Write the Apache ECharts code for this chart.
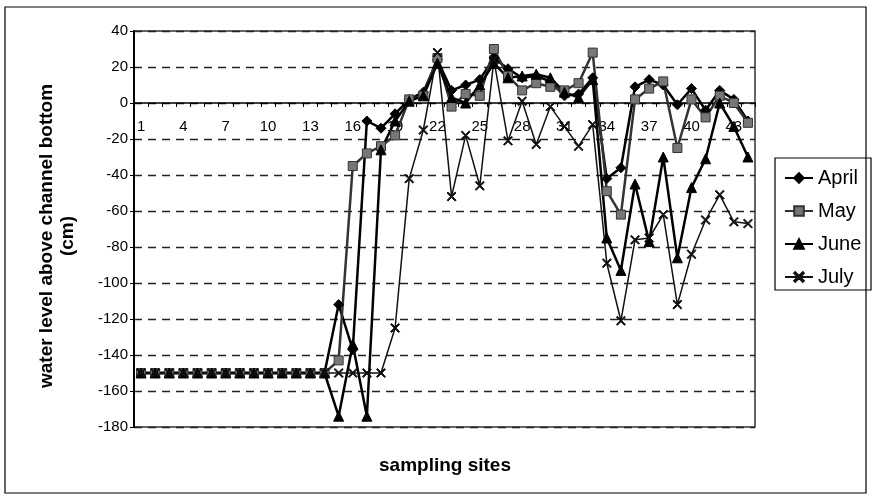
<!DOCTYPE html>
<html>
<head>
<meta charset="utf-8">
<script src="https://cdn.jsdelivr.net/npm/echarts@6/dist/echarts.min.js"></script>
<style>
  html, body { margin: 0; padding: 0; background: #fff; }
  #chart { width: 872px; height: 499px; }
</style>
</head>
<body>
<div id="chart"></div>
<script>
// Sampling sites along the channel
const sites = ['1','2','3','4','5','6','7','8','9','10','11','12','13','14','15','16','17','18','19','20','21','22',
  '23','24','25','26','27','28','29','30','31','32','33','34','35','36','37','38','39','40','41','42','43','44'];

// Water level above channel bottom (cm), per month
const april = [-150,-150,-150,-150,-150,-150,-150,-150,-150,-150,-150,-150,-150,-150,
  -112,-137,-10,-14,-6,2,6,24,7,10,13,25,19,14,15,12,4,5,14,-42,-36,9,13,10,-1,8,-4,7,2,-10];
const may = [-150,-150,-150,-150,-150,-150,-150,-150,-150,-150,-150,-150,-150,-150,
  -143,-35,-28,-24,-18,2,4,25,-2,5,4,30,15,7,11,9,7,11,28,-49,-62,2,8,12,-25,2,-8,4,0,-11];
const june = [-150,-150,-150,-150,-150,-150,-150,-150,-150,-150,-150,-150,-150,-150,
  -174,-134,-174,-26,-10,1,4,22,3,0,10,22,14,15,16,14,6,3,13,-75,-93,-45,-77,-30,-86,-47,-31,0,-13,-30];
const july = [-150,-150,-150,-150,-150,-150,-150,-150,-150,-150,-150,-150,-150,-150,
  -150,-150,-150,-150,-125,-42,-15,28,-52,-18,-46,24,-21,1,-23,-2,-13,-24,-12,-89,-121,-76,-75,-62,-112,-84,-65,-51,-66,-67];

// Value axis range
const yMin = -180, yMax = 40, yStep = 20;

const FONT = '"Liberation Sans", Arial, sans-serif';
const crossSymbol = 'path://M0,1L1,0L5,4L9,0L10,1L6,5L10,9L9,10L5,6L1,10L0,9L4,5Z';

// Plot box
const PLOT = { left: 134, top: 31, width: 621, height: 396 };
// Distance from the bottom of the plot box up to the zero line
const zeroLift = PLOT.height * (0 - yMin) / (yMax - yMin);

function lineSeries(name, data, symbol, size, lineColor, fill, width) {
  return {
    name: name,
    type: 'line',
    data: data,
    symbol: symbol,
    symbolSize: size,
    showAllSymbol: true,
    lineStyle: { color: lineColor, width: width },
    itemStyle: { color: fill, borderColor: lineColor, borderWidth: 1 },
    emphasis: { disabled: true }
  };
}

const chart = echarts.init(document.getElementById('chart'));
chart.setOption({
  animation: false,
  backgroundColor: '#fff',
  grid: {
    left: PLOT.left, top: PLOT.top, width: PLOT.width, height: PLOT.height,
    show: true, borderColor: '#333', borderWidth: 1.5
  },
  xAxis: {
    type: 'category',
    data: sites,
    boundaryGap: true,
    position: 'bottom',
    offset: -zeroLift,
    axisLine: { onZero: false, lineStyle: { color: '#000', width: 1.5 } },
    axisTick: { show: true, interval: 0, length: 4, lineStyle: { color: '#000', width: 1 } },
    axisLabel: { interval: 2, fontSize: 15, color: '#000', margin: 16, fontFamily: FONT },
    splitLine: { show: false }
  },
  yAxis: {
    type: 'value',
    min: yMin, max: yMax, interval: yStep,
    axisLine: { show: true, lineStyle: { color: '#000', width: 2 } },
    axisTick: { show: true, length: 4, lineStyle: { color: '#000', width: 1 } },
    axisLabel: { fontSize: 15, color: '#000', margin: 6, fontFamily: FONT },
    splitLine: { show: true, lineStyle: { type: [8, 6], color: '#222', width: 1.3 } }
  },
  legend: {
    orient: 'vertical',
    left: 779, top: 162,
    itemWidth: 28, itemHeight: 12, itemGap: 11,
    textStyle: { fontSize: 20, fontFamily: FONT, color: '#000', lineHeight: 22 },
    data: ['April', 'May', 'June', 'July']
  },
  series: [
    lineSeries('April', april, 'diamond', 10, '#000', '#000', 2.5),
    lineSeries('May', may, 'rect', 9, '#333', '#777', 2.5),
    lineSeries('June', june, 'triangle', 10, '#000', '#000', 2.5),
    lineSeries('July', july, crossSymbol, 9, '#111', '#111', 1.5)
  ],
  graphic: [
    { type: 'rect', shape: { x: 5, y: 7, width: 861, height: 486 },
      style: { fill: 'none', stroke: '#000', lineWidth: 1.2 }, silent: true },
    { type: 'rect', shape: { x: 775, y: 158, width: 96, height: 132 },
      style: { fill: 'none', stroke: '#000', lineWidth: 1.2 }, silent: true },
    { type: 'text', x: 47, y: 236, rotation: Math.PI / 2,
      style: { text: 'water level above channel bottom', fontSize: 19, fontWeight: 'bold',
        fontFamily: FONT, fill: '#000', textAlign: 'center', textVerticalAlign: 'middle' } },
    { type: 'text', x: 68, y: 236, rotation: Math.PI / 2,
      style: { text: '(cm)', fontSize: 19, fontWeight: 'bold',
        fontFamily: FONT, fill: '#000', textAlign: 'center', textVerticalAlign: 'middle' } },
    { type: 'text', x: 445, y: 466,
      style: { text: 'sampling sites', fontSize: 19, fontWeight: 'bold',
        fontFamily: FONT, fill: '#000', textAlign: 'center', textVerticalAlign: 'middle' } }
  ]
});
</script>
</body>
</html>
